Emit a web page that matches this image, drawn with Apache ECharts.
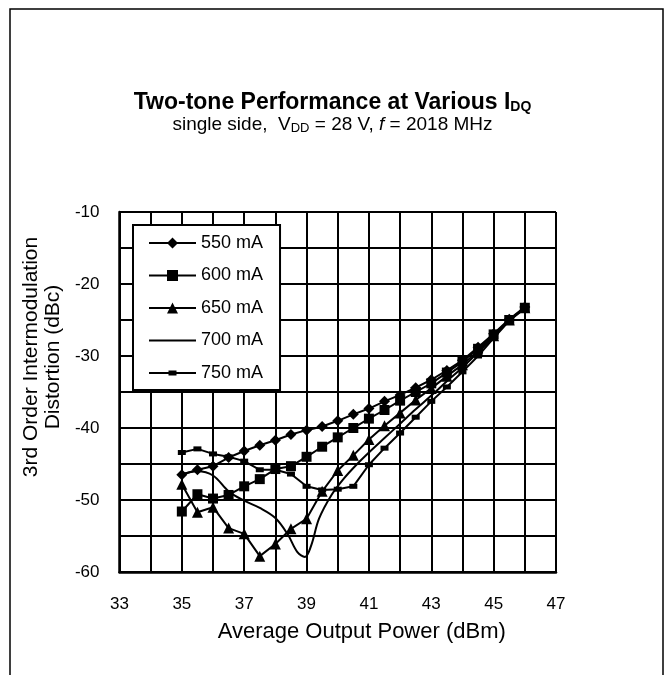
<!DOCTYPE html>
<html>
<head>
<meta charset="utf-8">
<script src="https://cdn.jsdelivr.net/npm/echarts@6/dist/echarts.min.js"></script>
<style>
html,body{margin:0;padding:0;background:#fff;}
#main{width:665px;height:675px;}
</style>
</head>
<body>
<div id="main"></div>
<script>
var xTicks = [33, 35, 37, 39, 41, 43, 45, 47];
var yTicks = [-10, -20, -30, -40, -50, -60];
var seriesNames = ['550 mA', '600 mA', '650 mA', '700 mA', '750 mA'];

var s550 = [[35,-46.5],[35.5,-45.8],[36,-45.3],[36.5,-44.1],[37,-43.2],[37.5,-42.4],[38,-41.7],[38.5,-40.9],[39,-40.3],[39.5,-39.8],[40,-39.0],[40.5,-38.1],[41,-37.3],[41.5,-36.3],[42,-35.4],[42.5,-34.4],[43,-33.3],[43.5,-32.0],[44,-30.6],[44.5,-28.8],[45,-26.9],[45.5,-24.9],[46,-23.2]];
var s600 = [[35,-51.6],[35.5,-49.2],[36,-49.8],[36.5,-49.3],[37,-48.1],[37.5,-47.1],[38,-45.7],[38.5,-45.3],[39,-44.0],[39.5,-42.6],[40,-41.3],[40.5,-40.0],[41,-38.7],[41.5,-37.5],[42,-36.2],[42.5,-35.0],[43,-33.8],[43.5,-32.3],[44,-30.8],[44.5,-29.0],[45,-27.0],[45.5,-25.0],[46,-23.3]];
var s650 = [[35,-47.8],[35.5,-51.7],[36,-51.0],[36.5,-53.9],[37,-54.7],[37.5,-57.8],[38,-56.1],[38.5,-54.0],[39,-52.6],[39.5,-48.8],[40,-45.9],[40.5,-43.8],[41,-41.6],[41.5,-39.7],[42,-37.9],[42.5,-36.1],[43,-34.5],[43.5,-32.8],[44,-31.2],[44.5,-29.3],[45,-27.2],[45.5,-25.0],[46,-23.3]];
var s700 = [[35,-46.4],[35.5,-46.0],[36,-46.6],[36.5,-48.8],[37,-50.1],[37.5,-51.1],[38,-52.5],[38.4,-54.8],[38.7,-57.2],[38.95,-57.9],[39.15,-56.3],[39.4,-52.6],[39.8,-49.3],[40.2,-47.0],[40.6,-45.1],[41,-43.4],[41.5,-41.4],[42,-39.4],[42.5,-37.4],[43,-35.5],[43.5,-33.5],[44,-31.6],[44.5,-29.5],[45,-27.3],[45.5,-25.1],[46,-23.3]];
var s750 = [[35,-43.4],[35.5,-42.9],[36,-43.6],[36.5,-44.0],[37,-44.6],[37.5,-45.8],[38,-45.8],[38.5,-46.4],[39,-48.1],[39.5,-48.6],[40,-48.5],[40.5,-48.1],[41,-45.1],[41.5,-42.8],[42,-40.7],[42.5,-38.5],[43,-36.3],[43.5,-34.3],[44,-32.2],[44.5,-30.0],[45,-27.5],[45.5,-25.1],[46,-23.4]];

var FONT = 'Liberation Sans, Arial, sans-serif';

// legend icons: line + marker drawn in a 47 x 14 box
var ICON_BASE = 'M0 0L0.01 0L0 0.01Z M47 14L46.99 14L47 13.99Z M0 6L47 6L47 8L0 8Z';
var legendIcons = [
  'path://' + ICON_BASE + ' M23.5 1.5L29 7L23.5 12.5L18 7Z',
  'path://' + ICON_BASE + ' M18 1.5L29 1.5L29 12.5L18 12.5Z',
  'path://' + ICON_BASE + ' M23.5 1.5L29 12.5L18 12.5Z',
  'path://' + ICON_BASE,
  'path://' + ICON_BASE + ' M19.5 4.5L27.5 4.5L27.5 9.5L19.5 9.5Z'
];

var chart = echarts.init(document.getElementById('main'), null, {renderer: 'canvas'});

function mk(name, data, symbol, size, smooth) {
  return {
    name: name, type: 'line', data: data,
    symbol: symbol, symbolSize: size, showSymbol: symbol !== 'none',
    smooth: smooth || false,
    lineStyle: {color: '#000', width: 2},
    itemStyle: {color: '#000'},
    emphasis: {disabled: true},
    animation: false
  };
}

var option = {
  animation: false,
  backgroundColor: '#fff',
  textStyle: {fontFamily: FONT},
  title: {
    left: 'center', top: 92,
    text: '{t|Two-tone Performance at Various I}{s|DQ}',
    subtext: '{a|single side,  V}{b|DD}{a| = 28 V, }{i|f}{a| = 2018 MHz}',
    itemGap: 0,
    padding: 0,
    textStyle: {
      rich: {
        t: {fontFamily: FONT, fontSize: 23, fontWeight: 'bold', color: '#000', lineHeight: 22},
        s: {fontFamily: FONT, fontSize: 14, fontWeight: 'bold', color: '#000', lineHeight: 12, verticalAlign: 'bottom'}
      }
    },
    subtextStyle: {
      rich: {
        a: {fontFamily: FONT, fontSize: 19, color: '#000', lineHeight: 20},
        b: {fontFamily: FONT, fontSize: 13, color: '#000', lineHeight: 11, verticalAlign: 'bottom'},
        i: {fontFamily: FONT, fontSize: 19, fontStyle: 'italic', color: '#000', lineHeight: 20}
      }
    }
  },
  legend: {
    orient: 'vertical',
    left: 133, top: 225,
    data: seriesNames.map(function (n, i) { return {name: n, icon: legendIcons[i]}; }),
    itemWidth: 47, itemHeight: 14, itemGap: 14.5,
    padding: [9, 17, 8, 16],
    backgroundColor: '#fff',
    borderColor: '#000', borderWidth: 2, borderRadius: 0,
    itemStyle: {borderWidth: 0},
    textStyle: {fontFamily: FONT, fontSize: 18, color: '#000', lineHeight: 18},
    selectedMode: false
  },
  graphic: [{
    type: 'rect', shape: {x: 10, y: 9, width: 653, height: 700},
    style: {fill: 'none', stroke: '#000', lineWidth: 1.5}, z: -1, silent: true
  }],
  grid: {left: 119, top: 212, right: 109, bottom: 103, containLabel: false},
  xAxis: {
    type: 'value', min: 33, max: 47, interval: 1,
    name: 'Average Output Power (dBm)', nameLocation: 'middle', nameGap: 49,
    nameTextStyle: {fontFamily: FONT, fontSize: 22, color: '#000', padding: [0, 0, 0, 48]},
    axisLine: {show: true, lineStyle: {color: '#000', width: 2.5}},
    axisTick: {show: false},
    axisLabel: {
      margin: 24, fontFamily: FONT, fontSize: 17, color: '#000',
      formatter: function (v) { return xTicks.indexOf(v) >= 0 ? String(v) : ''; }
    },
    splitLine: {show: true, lineStyle: {color: '#000', width: 2}}
  },
  yAxis: {
    type: 'value', min: -60, max: -10, interval: 5,
    name: '3rd Order Intermodulation\nDistortion (dBc)', nameLocation: 'middle', nameGap: 41,
    nameTextStyle: {fontFamily: FONT, fontSize: 21, color: '#000', lineHeight: 22, padding: [12, 0, 0, 70]},
    axisLine: {show: true, lineStyle: {color: '#000', width: 2.5}},
    axisTick: {show: false},
    axisLabel: {
      margin: 20, fontFamily: FONT, fontSize: 17, color: '#000',
      formatter: function (v) { return yTicks.indexOf(v) >= 0 ? String(v) : ''; }
    },
    splitLine: {show: true, lineStyle: {color: '#000', width: 2}}
  },
  series: [
    mk(seriesNames[0], s550, 'diamond', 11),
    mk(seriesNames[1], s600, 'rect', 10),
    mk(seriesNames[2], s650, 'triangle', 11),
    mk(seriesNames[3], s700, 'none', 0, 0.35),
    mk(seriesNames[4], s750, 'rect', [8, 5])
  ]
};
chart.setOption(option);
</script>
</body>
</html>
